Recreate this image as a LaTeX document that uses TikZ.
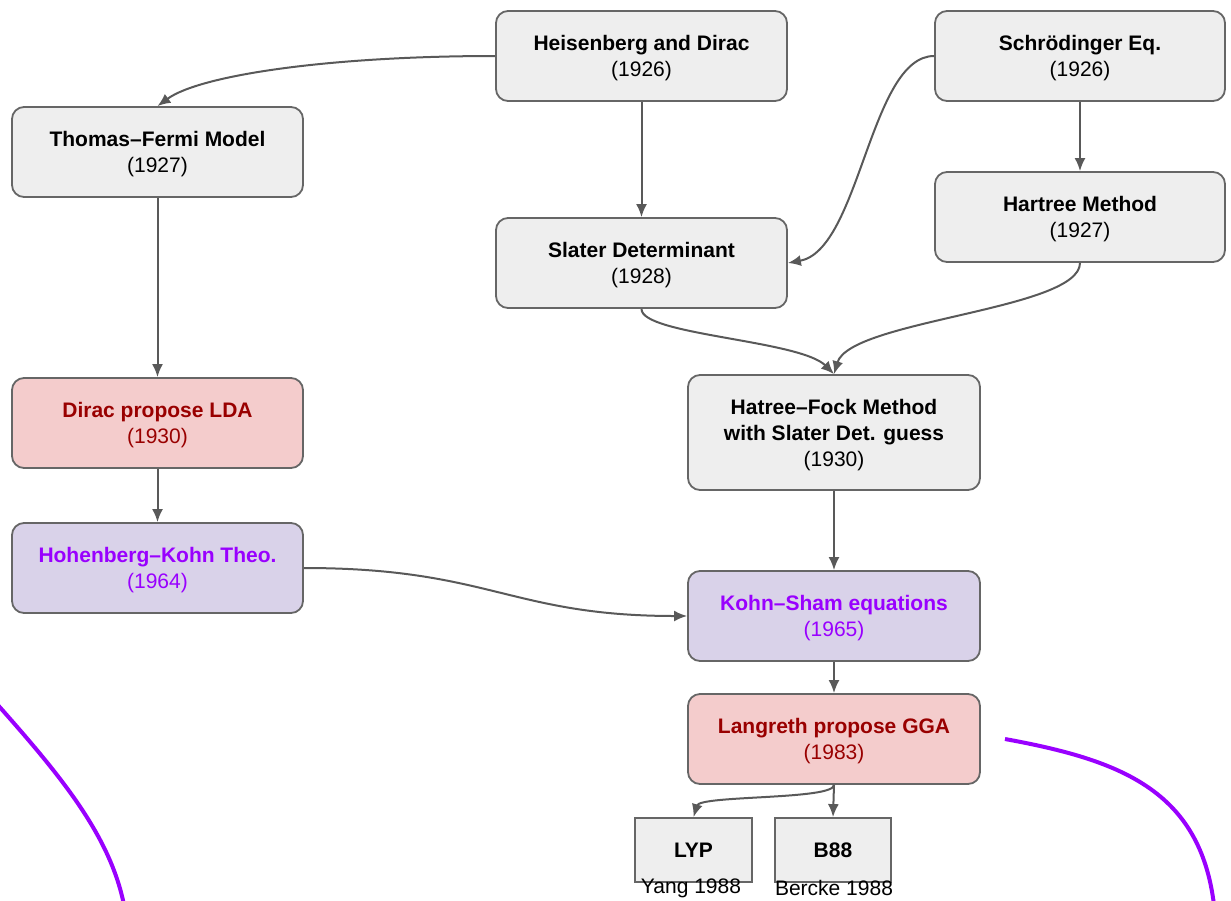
\documentclass[tikz,border=0pt]{standalone}
\usepackage{fontspec}
\setmainfont{Liberation Sans}
\usetikzlibrary{arrows.meta}

\definecolor{boxfill}{HTML}{EEEEEE}
\definecolor{boxline}{HTML}{666666}
\definecolor{pinkfill}{HTML}{F4CCCC}
\definecolor{darkred}{HTML}{990000}
\definecolor{lilacfill}{HTML}{D9D2E9}
\definecolor{vividpurple}{HTML}{9900FF}
\definecolor{linkgray}{HTML}{595959}

% bold first line with a little extra head room
\newcommand\cardtitle[1]{\rule{0pt}{20pt}\textbf{#1}}

\tikzset{
  card/.style={draw=boxline, line width=1.8pt, fill=boxfill, rounded corners=12pt,
    minimum width=291pt, minimum height=90pt, align=center, inner sep=0pt,
    font=\fontsize{21}{26}\selectfont},
  flatcard/.style={draw=boxline, line width=1.8pt, fill=boxfill,
    minimum width=117pt, minimum height=64pt, inner sep=0pt,
    font=\fontsize{21}{26}\selectfont\bfseries},
  ldacard/.style={card, fill=pinkfill, text=darkred},
  thcard/.style={card, fill=lilacfill, text=vividpurple},
  link/.style={draw=linkgray, line width=2pt, -{Latex[length=13pt,width=11pt]}},
  sweep/.style={draw=vividpurple, line width=4pt},
  caption/.style={inner sep=0pt, font=\fontsize{21}{26}\selectfont}
}

\begin{document}
\begin{tikzpicture}[x=1pt,y=-1pt]
\useasboundingbox (0,0) rectangle (1231,900);
\clip (0,0) rectangle (1231,900);

% boxes
\node[card] (hd) at (641.5,56) {\cardtitle{Heisenberg and Dirac}\\(1926)};
\node[card, minimum width=290pt] (se) at (1080,56) {\cardtitle{Schrödinger Eq.}\\(1926)};
\node[card] (tf) at (157.5,152) {\cardtitle{Thomas–Fermi Model}\\(1927)};
\node[card] (sd) at (641.5,263) {\cardtitle{Slater Determinant}\\(1928)};
\node[card, minimum width=290pt] (hm) at (1080,217) {\cardtitle{Hartree Method}\\(1927)};
\node[ldacard] (lda) at (157.5,423) {\cardtitle{Dirac propose LDA}\\(1930)};
\node[card, minimum width=292pt, minimum height=115pt] (hf) at (834,432.5)
  {\cardtitle{Hatree–Fock Method}\\\textbf{with Slater Det. guess}\\(1930)};
\node[thcard] (hk) at (157.5,568) {\cardtitle{Hohenberg–Kohn Theo.}\\(1964)};
\node[thcard, minimum width=292pt] (ks) at (834,616) {\cardtitle{Kohn–Sham equations}\\(1965)};
\node[ldacard, minimum width=292pt] (gga) at (834,739) {\cardtitle{Langreth propose GGA}\\(1983)};
\node[flatcard] (lyp) at (693.5,850) {LYP};
\node[flatcard, minimum width=116pt] (b88) at (833,850) {B88};
\node[caption] (lypc) at (691,888) {Yang 1988};
\node[caption] (b88c) at (834,888) {Bercke 1988};

% connectors
\draw[link] (hd.west) .. controls (330,56) and (200,75) .. (tf.north);
\draw[link] (hd.south) -- (sd.north);
\draw[link] (se.west) .. controls (870,56) and (860,250) .. (sd.east);
\draw[link] (se.south) -- (hm.north);
\draw[link] (tf.south) -- (lda.north);
\draw[link] (sd.south) .. controls (641,335) and (800,340) .. (hf.north);
\draw[link] (hm.south) .. controls (1080,310) and (850,320) .. (hf.north);
\draw[link] (lda.south) -- (hk.north);
\draw[link] (hk.east) .. controls (490,568) and (510,616) .. (ks.west);
\draw[link] (hf.south) -- (ks.north);
\draw[link] (ks.south) -- (gga.north);
\draw[link] (gga.south) .. controls (834,800) and (700,795) .. (lyp.north);
\draw[link] (gga.south) -- (b88.north);

% purple sweeps
\draw[sweep] (-3,704) .. controls (60,775) and (110,835) .. (124,905);
\draw[sweep] (1005,739) .. controls (1120,760) and (1200,790) .. (1214,905);
\end{tikzpicture}
\end{document}
